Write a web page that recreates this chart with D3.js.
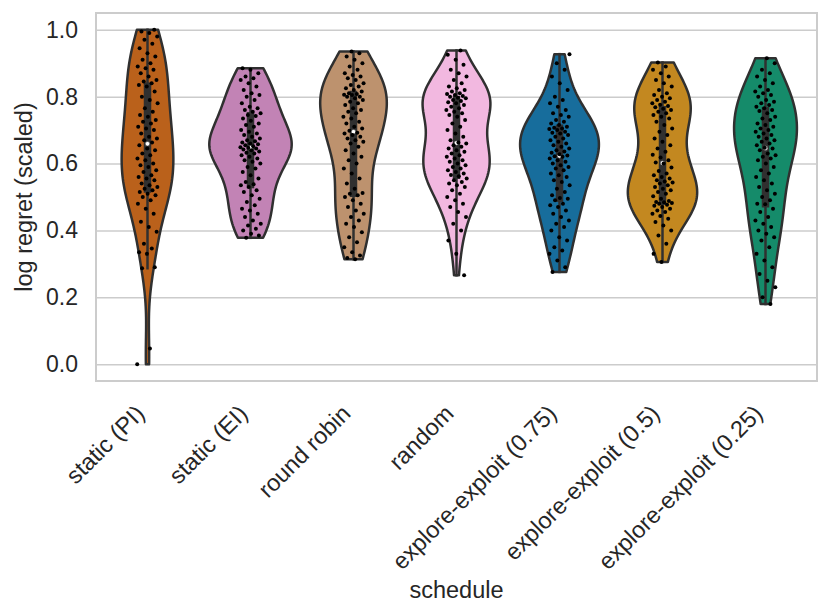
<!DOCTYPE html>
<html>
<head>
<meta charset="utf-8">
<script src="https://cdn.jsdelivr.net/npm/d3@7"></script>
<style>
  body { margin: 0; background: #fff; }
  svg text { font-family: "Liberation Sans", Arial, sans-serif; fill: #262626; }
</style>
</head>
<body>
<svg id="chart" width="831" height="616"></svg>
<script>
/* Violin + strip plot of scaled log regret per schedule */

const schedules = [
  'static (PI)', 'static (EI)', 'round robin', 'random',
  'explore-exploit (0.75)', 'explore-exploit (0.5)', 'explore-exploit (0.25)'
];

const staticPI = [
  0.0, 0.047, 0.287, 0.29, 0.33, 0.335, 0.346, 0.36, 0.396, 0.41, 0.426, 0.45, 0.465, 0.48, 0.49, 0.50, 0.505, 0.51, 0.515, 0.52,
  0.525, 0.53, 0.535, 0.54, 0.55, 0.555, 0.56, 0.565, 0.575, 0.58, 0.59, 0.595, 0.60, 0.61, 0.615, 0.625, 0.63, 0.64, 0.645, 0.655,
  0.663, 0.67, 0.675, 0.68, 0.69, 0.70, 0.705, 0.71, 0.72, 0.725, 0.73, 0.74, 0.745, 0.755, 0.765, 0.78, 0.79, 0.80, 0.815, 0.83,
  0.835, 0.84, 0.845, 0.85, 0.86, 0.87, 0.88, 0.885, 0.89, 0.90, 0.91, 0.92, 0.93, 0.945, 0.958, 0.97, 0.98, 0.99, 0.995, 1.0
];
const staticEI = [
  0.378, 0.385, 0.39, 0.40, 0.405, 0.415, 0.42, 0.43, 0.44, 0.45, 0.46, 0.465, 0.475, 0.485, 0.495, 0.505, 0.515, 0.52, 0.53, 0.535,
  0.538, 0.545, 0.555, 0.565, 0.575, 0.585, 0.59, 0.60, 0.605, 0.61, 0.615, 0.62, 0.625, 0.63, 0.632, 0.636, 0.64, 0.642, 0.645, 0.647,
  0.649, 0.652, 0.655, 0.658, 0.66, 0.663, 0.667, 0.67, 0.675, 0.68, 0.685, 0.69, 0.695, 0.70, 0.71, 0.715, 0.72, 0.728, 0.735, 0.742,
  0.745, 0.75, 0.755, 0.76, 0.765, 0.77, 0.78, 0.79, 0.80, 0.805, 0.81, 0.82, 0.83, 0.84, 0.85, 0.855, 0.86, 0.87, 0.88, 0.885
];
const roundRobin = [
  0.314, 0.318, 0.325, 0.335, 0.35, 0.365, 0.38, 0.395, 0.41, 0.42, 0.43, 0.44, 0.45, 0.46, 0.47, 0.48, 0.49, 0.50, 0.505, 0.51,
  0.512, 0.525, 0.54, 0.555, 0.57, 0.585, 0.60, 0.61, 0.62, 0.63, 0.64, 0.65, 0.66, 0.665, 0.67, 0.675, 0.68, 0.685, 0.69, 0.692,
  0.698, 0.705, 0.71, 0.72, 0.725, 0.735, 0.74, 0.75, 0.755, 0.76, 0.765, 0.775, 0.78, 0.785, 0.79, 0.795, 0.80, 0.80, 0.805, 0.806,
  0.808, 0.81, 0.815, 0.82, 0.825, 0.83, 0.835, 0.84, 0.85, 0.855, 0.86, 0.865, 0.87, 0.88, 0.89, 0.90, 0.91, 0.92, 0.93, 0.935
];
const randomSched = [
  0.266, 0.33, 0.37, 0.40, 0.42, 0.44, 0.455, 0.47, 0.48, 0.49, 0.50, 0.51, 0.52, 0.53, 0.535, 0.54, 0.545, 0.55, 0.555, 0.562,
  0.566, 0.57, 0.575, 0.58, 0.585, 0.59, 0.595, 0.60, 0.605, 0.61, 0.615, 0.62, 0.625, 0.63, 0.635, 0.64, 0.645, 0.65, 0.655, 0.66,
  0.663, 0.67, 0.68, 0.69, 0.70, 0.71, 0.72, 0.73, 0.74, 0.745, 0.75, 0.755, 0.76, 0.765, 0.77, 0.775, 0.78, 0.783, 0.787, 0.79,
  0.795, 0.797, 0.80, 0.802, 0.805, 0.808, 0.81, 0.815, 0.82, 0.825, 0.83, 0.84, 0.85, 0.86, 0.87, 0.88, 0.895, 0.91, 0.925, 0.938
];
const explore075 = [
  0.276, 0.29, 0.31, 0.33, 0.34, 0.35, 0.37, 0.38, 0.40, 0.41, 0.42, 0.43, 0.44, 0.45, 0.46, 0.47, 0.475, 0.48, 0.49, 0.495,
  0.497, 0.505, 0.515, 0.525, 0.535, 0.545, 0.55, 0.56, 0.565, 0.57, 0.58, 0.585, 0.59, 0.595, 0.60, 0.605, 0.61, 0.615, 0.62, 0.622,
  0.624, 0.628, 0.632, 0.636, 0.64, 0.645, 0.65, 0.655, 0.66, 0.665, 0.67, 0.675, 0.68, 0.685, 0.69, 0.692, 0.695, 0.70, 0.703, 0.705,
  0.707, 0.71, 0.715, 0.72, 0.725, 0.73, 0.74, 0.745, 0.75, 0.76, 0.77, 0.78, 0.79, 0.80, 0.82, 0.84, 0.86, 0.88, 0.90, 0.927
];
const explore05 = [
  0.306, 0.33, 0.36, 0.385, 0.40, 0.415, 0.425, 0.435, 0.443, 0.45, 0.455, 0.46, 0.465, 0.47, 0.474, 0.477, 0.48, 0.482, 0.484, 0.485,
  0.488, 0.495, 0.502, 0.51, 0.515, 0.52, 0.525, 0.53, 0.535, 0.54, 0.543, 0.546, 0.55, 0.555, 0.56, 0.565, 0.57, 0.578, 0.588, 0.60,
  0.603, 0.61, 0.618, 0.626, 0.635, 0.645, 0.655, 0.665, 0.675, 0.685, 0.695, 0.705, 0.715, 0.725, 0.735, 0.74, 0.745, 0.75, 0.755, 0.76,
  0.764, 0.768, 0.772, 0.776, 0.78, 0.785, 0.79, 0.795, 0.80, 0.805, 0.81, 0.82, 0.83, 0.84, 0.85, 0.86, 0.87, 0.88, 0.89, 0.902
];
const explore025 = [
  0.18, 0.20, 0.23, 0.25, 0.27, 0.29, 0.31, 0.33, 0.35, 0.37, 0.38, 0.39, 0.40, 0.41, 0.42, 0.43, 0.44, 0.455, 0.465, 0.478,
  0.48, 0.49, 0.50, 0.51, 0.52, 0.53, 0.54, 0.55, 0.56, 0.57, 0.58, 0.59, 0.60, 0.61, 0.615, 0.62, 0.625, 0.63, 0.64, 0.645,
  0.647, 0.655, 0.66, 0.665, 0.67, 0.675, 0.68, 0.685, 0.69, 0.695, 0.70, 0.705, 0.71, 0.715, 0.72, 0.73, 0.735, 0.74, 0.75, 0.757,
  0.76, 0.765, 0.77, 0.775, 0.78, 0.785, 0.79, 0.80, 0.805, 0.81, 0.815, 0.82, 0.83, 0.84, 0.85, 0.86, 0.87, 0.88, 0.90, 0.915
];

const seriesValues = [staticPI, staticEI, roundRobin, randomSched, explore075, explore05, explore025];
const yTicks = [0.0, 0.2, 0.4, 0.6, 0.8, 1.0];
const palette = ['#d55e00', '#cc78bc', '#ca9161', '#fbafe4', '#0173b2', '#de8f05', '#029e73'];

const W = 831, H = 616;
const M = { left: 96, right: 14, top: 13, bottom: 235 };
const LINE = '#303030';
const GRID = '#cccccc';
const FONT = '"Liberation Sans", Arial, sans-serif';

const svg = d3.select('#chart');

const x = d3.scaleBand().domain(schedules).range([M.left, W - M.right]).paddingInner(0).paddingOuter(0);
const y = d3.scaleLinear().domain([-0.05, 1.05]).range([H - M.bottom, M.top]);
const step = x.bandwidth();

// seaborn-style desaturation (saturation 0.75)
const fillColor = c => { const h = d3.hsl(c); h.s *= 0.75; return h.formatHex(); };

// ── Gaussian KDE, scott bandwidth, cut = 0 ──
function kde(vals) {
  const n = vals.length;
  const bw = d3.deviation(vals) * Math.pow(n, -0.2);
  const lo = d3.min(vals), hi = d3.max(vals);
  const grid = d3.range(100).map(i => lo + (hi - lo) * i / 99);
  return grid.map(s => ({
    s,
    d: d3.mean(vals, v => Math.exp(-0.5 * ((s - v) / bw) ** 2)) / (bw * Math.sqrt(2 * Math.PI))
  }));
}

const violins = seriesValues.map((vals, i) => {
  const sorted = vals.slice().sort(d3.ascending);
  const q1 = d3.quantile(sorted, 0.25), q2 = d3.quantile(sorted, 0.5), q3 = d3.quantile(sorted, 0.75);
  const iqr = q3 - q1;
  return {
    name: schedules[i], vals: sorted, dens: kde(sorted), q1, q2, q3,
    wLo: d3.min(sorted.filter(v => v >= q1 - 1.5 * iqr)),
    wHi: d3.max(sorted.filter(v => v <= q3 + 1.5 * iqr)),
    color: fillColor(palette[i])
  };
});
const maxDens = d3.max(violins, v => d3.max(v.dens, p => p.d));
const halfW = d3.scaleLinear().domain([0, maxDens]).range([0, 0.4 * step]);

// ── Frame & grid ──
const yAxis = svg.append('g')
  .attr('transform', `translate(${M.left},0)`)
  .call(d3.axisLeft(y).tickValues(yTicks).tickFormat(d3.format('.1f'))
    .tickSize(-(W - M.left - M.right)).tickPadding(18));
yAxis.select('.domain').remove();
yAxis.selectAll('.tick line').attr('stroke', GRID).attr('stroke-width', 1.5);
yAxis.selectAll('.tick text').attr('font-size', 23).attr('fill', '#262626').style('font-family', FONT);

svg.append('rect')
  .attr('x', M.left).attr('y', M.top)
  .attr('width', W - M.left - M.right).attr('height', H - M.bottom - M.top)
  .attr('fill', 'none').attr('stroke', GRID).attr('stroke-width', 2);

// ── Violins ──
const area = d3.area().y(p => y(p.s));

const vg = svg.append('g').attr('class', 'violins');
violins.forEach(v => {
  const cx = x(v.name) + step / 2;
  vg.append('path')
    .datum(v.dens)
    .attr('d', area.x0(p => cx - halfW(p.d)).x1(p => cx + halfW(p.d)))
    .attr('fill', v.color)
    .attr('stroke', LINE).attr('stroke-width', 2.5).attr('stroke-linejoin', 'round');

  // inner box: whisker, IQR bar, median dot
  vg.append('line')
    .attr('x1', cx).attr('x2', cx).attr('y1', y(v.wLo)).attr('y2', y(v.wHi))
    .attr('stroke', LINE).attr('stroke-width', 2.5).attr('stroke-linecap', 'square');
  vg.append('line')
    .attr('x1', cx).attr('x2', cx).attr('y1', y(v.q1)).attr('y2', y(v.q3))
    .attr('stroke', LINE).attr('stroke-width', 7.5).attr('stroke-linecap', 'square');
  vg.append('circle')
    .attr('cx', cx).attr('cy', y(v.q2)).attr('r', 2.3)
    .attr('fill', '#fff').attr('stroke', LINE).attr('stroke-width', 0.5);
});

// ── Strip points (deterministic jitter within ±0.1 of the band) ──
const pg = svg.append('g').attr('class', 'points');
violins.forEach((v, k) => {
  const cx = x(v.name) + step / 2;
  pg.selectAll(null)
    .data(v.vals)
    .join('circle')
    .attr('cx', (d, i) => cx + (((i * 0.6180339887 + k * 0.29) % 1) * 2 - 1) * 0.1 * step)
    .attr('cy', d => y(d))
    .attr('r', 2)
    .attr('fill', '#000');
});

// ── X axis labels ──
const xAxis = svg.append('g')
  .attr('transform', `translate(0,${H - M.bottom})`)
  .call(d3.axisBottom(x).tickSize(0));
xAxis.select('.domain').remove();
xAxis.selectAll('.tick text')
  .attr('font-size', 23.5).attr('fill', '#262626').style('font-family', FONT)
  .attr('text-anchor', 'end')
  .attr('x', 0).attr('y', 0).attr('dy', 0)
  .attr('transform', 'translate(-1.5,34) rotate(-45)');

// ── Axis titles ──
svg.append('text')
  .attr('x', (M.left + W - M.right) / 2).attr('y', 598)
  .attr('text-anchor', 'middle').attr('font-size', 23.5)
  .text('schedule');

svg.append('text')
  .attr('transform', `translate(32,${(M.top + H - M.bottom) / 2}) rotate(-90)`)
  .attr('text-anchor', 'middle').attr('font-size', 23.5)
  .text('log regret (scaled)');
</script>
</body>
</html>
